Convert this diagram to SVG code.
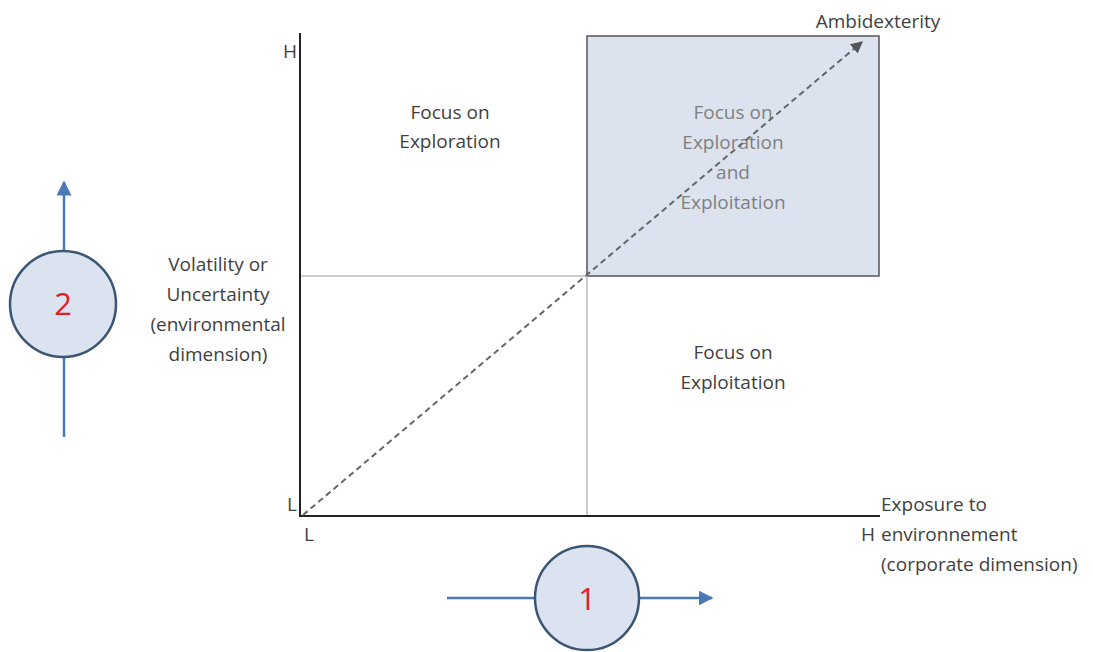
<svg xmlns="http://www.w3.org/2000/svg" width="1093" height="652" viewBox="0 0 1093 652">
<style>
text{font-family:"Open Sans","Liberation Sans",sans-serif;font-size:19px;fill:#3f3f3f}
.c{text-anchor:middle}
.g{fill:#808080}
.num{font-size:31px;fill:#e0202a;text-anchor:middle}
.circ{fill:#dbe3f1;stroke:#3b5574;stroke-width:2.5}
.arr{stroke:#4a7ab5;stroke-width:2.5;fill:none}
</style>
<defs>
<marker id="blue" viewBox="0 0 10 10" refX="9" refY="5" markerWidth="6" markerHeight="6" markerUnits="strokeWidth" orient="auto"><path d="M0,0L10,5L0,10z" fill="#4a7ab5"/></marker>
<marker id="gray" viewBox="0 0 10 10" refX="9" refY="5" markerWidth="6" markerHeight="6" markerUnits="strokeWidth" orient="auto"><path d="M0,0L10,5L0,10z" fill="#555"/></marker>
</defs>
<rect width="1093" height="652" fill="#fff"/>
<g id="ambidexterity-box">
<rect x="587" y="36" width="292" height="240" fill="#dce3ef" stroke="#555" stroke-width="1.5"/>
<text class="c g" x="733" y="119">Focus on</text>
<text class="c g" x="733" y="149">Exploration</text>
<text class="c g" x="733" y="179">and</text>
<text class="c g" x="733" y="209">Exploitation</text>
</g>
<g id="quadrant-lines">
<line x1="300" y1="276" x2="587" y2="276" stroke="#bbb" stroke-width="1.5"/>
<line x1="587" y1="276" x2="587" y2="516" stroke="#bbb" stroke-width="1.5"/>
</g>
<g id="axes">
<line x1="300" y1="33" x2="300" y2="517" stroke="#222" stroke-width="2"/>
<line x1="299" y1="516" x2="880" y2="516" stroke="#222" stroke-width="2"/>
<text x="283" y="58">H</text>
<text x="287" y="511">L</text>
<text x="304" y="541">L</text>
<text x="861" y="541">H</text>
</g>
<g id="exploration">
<text class="c" x="450" y="119">Focus on</text>
<text class="c" x="450" y="148">Exploration</text>
</g>
<g id="exploitation">
<text class="c" x="733" y="359">Focus on</text>
<text class="c" x="733" y="389">Exploitation</text>
</g>
<g id="y-label">
<text class="c" x="218" y="271">Volatility or</text>
<text class="c" x="218" y="301">Uncertainty</text>
<text class="c" x="218" y="331">(environmental</text>
<text class="c" x="218" y="361">dimension)</text>
</g>
<g id="x-label">
<text x="881" y="511">Exposure to</text>
<text x="881" y="541">environnement</text>
<text x="881" y="571">(corporate dimension)</text>
</g>
<g id="ambidexterity-label">
<text class="c" x="878" y="28">Ambidexterity</text>
</g>
<g id="connectors">
<line x1="303" y1="515" x2="862" y2="42" stroke="#666" stroke-width="2" stroke-dasharray="6,4" marker-end="url(#gray)"/>
<line class="arr" x1="64" y1="437" x2="64" y2="357"/>
<line class="arr" x1="64" y1="251" x2="64" y2="182" marker-end="url(#blue)"/>
<line class="arr" x1="447" y1="598" x2="535" y2="598"/>
<line class="arr" x1="639" y1="598" x2="712" y2="598" marker-end="url(#blue)"/>
</g>
<g id="circle-2">
<circle class="circ" cx="63" cy="304" r="53"/>
<text class="num" x="63" y="315">2</text>
</g>
<g id="circle-1">
<circle class="circ" cx="587" cy="598" r="52"/>
<text class="num" x="587" y="610">1</text>
</g>
</svg>
